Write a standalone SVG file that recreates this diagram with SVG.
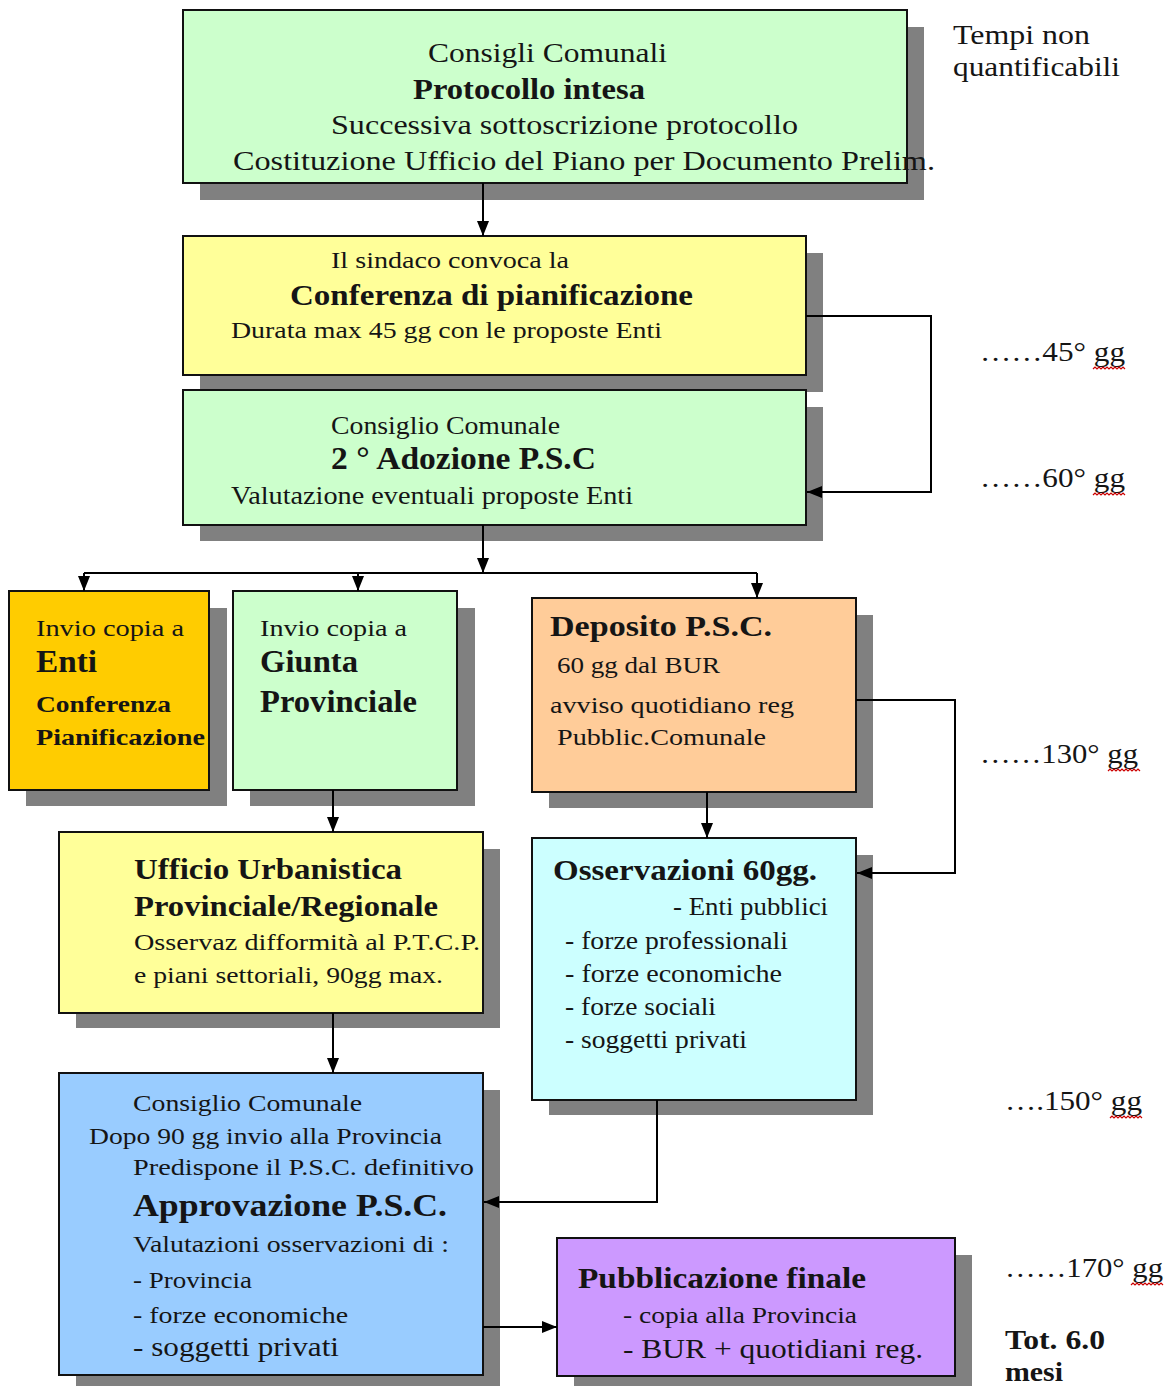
<svg xmlns="http://www.w3.org/2000/svg" width="1168" height="1386" viewBox="0 0 1168 1386">
<defs>
<marker id="ah" markerUnits="userSpaceOnUse" markerWidth="15" markerHeight="12" viewBox="0 0 15 12" refX="15" refY="6" orient="auto">
<path d="M0,0 L15,6 L0,12 z" fill="#000"/>
</marker>
</defs>
<style>
.sh{fill:#808080}
.bx{stroke:#111;stroke-width:2}
text{font-family:"Liberation Serif","Times New Roman",serif;fill:#151515}
.b{font-weight:bold}
.cn{fill:none;stroke:#000;stroke-width:2}
.sq{fill:none;stroke:#c00;stroke-width:1.2}
</style>
<rect width="1168" height="1386" fill="#fff"/>

<g id="n-consigli">
<rect class="sh" x="200" y="27" width="724" height="173"/>
<rect class="bx" x="183" y="10" width="724" height="173" fill="#CCFFCC"/>
<text x="428" y="62" font-size="28" textLength="239" lengthAdjust="spacingAndGlyphs">Consigli Comunali</text>
<text class="b" x="413" y="99" font-size="29" textLength="232" lengthAdjust="spacingAndGlyphs">Protocollo intesa</text>
<text x="331" y="134" font-size="28" textLength="467" lengthAdjust="spacingAndGlyphs">Successiva sottoscrizione protocollo</text>
<text x="233" y="170" font-size="28" textLength="702" lengthAdjust="spacingAndGlyphs">Costituzione Ufficio del Piano per Documento Prelim.</text>
</g>

<g id="n-conferenza">
<rect class="sh" x="200" y="253" width="623" height="139"/>
<rect class="bx" x="183" y="236" width="623" height="139" fill="#FFFF99"/>
<text x="331" y="268" font-size="24" textLength="238" lengthAdjust="spacingAndGlyphs">Il sindaco convoca la</text>
<text class="b" x="290" y="305" font-size="30" textLength="403" lengthAdjust="spacingAndGlyphs">Conferenza di pianificazione</text>
<text x="231" y="338" font-size="24" textLength="431" lengthAdjust="spacingAndGlyphs">Durata max 45 gg con le proposte Enti</text>
</g>

<g id="n-adozione">
<rect class="sh" x="200" y="407" width="623" height="134"/>
<rect class="bx" x="183" y="390" width="623" height="135" fill="#CCFFCC"/>
<text x="331" y="434" font-size="25" textLength="229" lengthAdjust="spacingAndGlyphs">Consiglio Comunale</text>
<text class="b" x="331" y="469" font-size="32" textLength="265" lengthAdjust="spacingAndGlyphs">2 ° Adozione P.S.C</text>
<text x="231" y="504" font-size="25" textLength="402" lengthAdjust="spacingAndGlyphs">Valutazione eventuali proposte Enti</text>
</g>

<g id="n-enti">
<rect class="sh" x="26" y="608" width="201" height="198"/>
<rect class="bx" x="9" y="591" width="200" height="199" fill="#FFCC00"/>
<text x="36" y="636" font-size="24" textLength="148" lengthAdjust="spacingAndGlyphs">Invio copia a</text>
<text class="b" x="36" y="672" font-size="31" textLength="61" lengthAdjust="spacingAndGlyphs">Enti</text>
<text class="b" x="36" y="712" font-size="24" textLength="135" lengthAdjust="spacingAndGlyphs">Conferenza</text>
<text class="b" x="36" y="745" font-size="24" textLength="169" lengthAdjust="spacingAndGlyphs">Pianificazione</text>
</g>

<g id="n-giunta">
<rect class="sh" x="250" y="608" width="225" height="198"/>
<rect class="bx" x="233" y="591" width="224" height="199" fill="#CCFFCC"/>
<text x="260" y="636" font-size="24" textLength="147" lengthAdjust="spacingAndGlyphs">Invio copia a</text>
<text class="b" x="260" y="672" font-size="31" textLength="98" lengthAdjust="spacingAndGlyphs">Giunta</text>
<text class="b" x="260" y="712" font-size="31" textLength="157" lengthAdjust="spacingAndGlyphs">Provinciale</text>
</g>

<g id="n-deposito">
<rect class="sh" x="549" y="615" width="324" height="193"/>
<rect class="bx" x="532" y="598" width="324" height="194" fill="#FFCC99"/>
<text class="b" x="550" y="636" font-size="30" textLength="222" lengthAdjust="spacingAndGlyphs">Deposito P.S.C.</text>
<text x="557" y="673" font-size="24" textLength="163" lengthAdjust="spacingAndGlyphs">60 gg dal BUR</text>
<text x="550" y="713" font-size="24" textLength="244" lengthAdjust="spacingAndGlyphs">avviso quotidiano reg</text>
<text x="557" y="745" font-size="24" textLength="209" lengthAdjust="spacingAndGlyphs">Pubblic.Comunale</text>
</g>

<g id="n-ufficio">
<rect class="sh" x="76" y="849" width="424" height="179"/>
<rect class="bx" x="59" y="832" width="424" height="181" fill="#FFFF99"/>
<text class="b" x="134" y="879" font-size="30" textLength="268" lengthAdjust="spacingAndGlyphs">Ufficio Urbanistica</text>
<text class="b" x="134" y="916" font-size="30" textLength="304" lengthAdjust="spacingAndGlyphs">Provinciale/Regionale</text>
<text x="134" y="950" font-size="24" textLength="346" lengthAdjust="spacingAndGlyphs">Osservaz difformità al P.T.C.P.</text>
<text x="134" y="983" font-size="24" textLength="309" lengthAdjust="spacingAndGlyphs">e piani settoriali, 90gg max.</text>
</g>

<g id="n-osservazioni">
<rect class="sh" x="549" y="855" width="324" height="260"/>
<rect class="bx" x="532" y="838" width="324" height="262" fill="#CCFFFF"/>
<text class="b" x="553" y="880" font-size="30" textLength="264" lengthAdjust="spacingAndGlyphs">Osservazioni  60gg.</text>
<text x="673" y="915" font-size="25" textLength="155" lengthAdjust="spacingAndGlyphs">- Enti pubblici</text>
<text x="565" y="949" font-size="25" textLength="223" lengthAdjust="spacingAndGlyphs">- forze professionali</text>
<text x="565" y="982" font-size="25" textLength="217" lengthAdjust="spacingAndGlyphs">- forze economiche</text>
<text x="565" y="1015" font-size="25" textLength="151" lengthAdjust="spacingAndGlyphs">- forze sociali</text>
<text x="565" y="1048" font-size="25" textLength="182" lengthAdjust="spacingAndGlyphs">- soggetti privati</text>
</g>

<g id="n-approvazione">
<rect class="sh" x="76" y="1090" width="424" height="300"/>
<rect class="bx" x="59" y="1073" width="424" height="302" fill="#99CCFF"/>
<text x="133" y="1111" font-size="24" textLength="229" lengthAdjust="spacingAndGlyphs">Consiglio Comunale</text>
<text x="89" y="1144" font-size="24" textLength="353" lengthAdjust="spacingAndGlyphs">Dopo 90 gg invio alla Provincia</text>
<text x="133" y="1175" font-size="24" textLength="341" lengthAdjust="spacingAndGlyphs">Predispone il  P.S.C.  definitivo</text>
<text class="b" x="133" y="1216" font-size="32" textLength="314" lengthAdjust="spacingAndGlyphs">Approvazione P.S.C.</text>
<text x="133" y="1252" font-size="24" textLength="316" lengthAdjust="spacingAndGlyphs">Valutazioni osservazioni di :</text>
<text x="133" y="1288" font-size="24" textLength="119" lengthAdjust="spacingAndGlyphs">- Provincia</text>
<text x="133" y="1323" font-size="24" textLength="215" lengthAdjust="spacingAndGlyphs">- forze economiche</text>
<text x="133" y="1356" font-size="27" textLength="206" lengthAdjust="spacingAndGlyphs">- soggetti privati</text>
</g>

<g id="n-pubblicazione">
<rect class="sh" x="574" y="1255" width="398" height="135"/>
<rect class="bx" x="557" y="1238" width="398" height="138" fill="#CC99FF"/>
<text class="b" x="578" y="1288" font-size="30" textLength="288" lengthAdjust="spacingAndGlyphs">Pubblicazione finale</text>
<text x="623" y="1323" font-size="24" textLength="234" lengthAdjust="spacingAndGlyphs">- copia alla Provincia</text>
<text x="623" y="1358" font-size="28" textLength="300" lengthAdjust="spacingAndGlyphs">- BUR + quotidiani reg.</text>
</g>

<g id="connectors">
<path class="cn" d="M483,183 V236" marker-end="url(#ah)"/>
<path class="cn" d="M806,316 H931 V492 H807" marker-end="url(#ah)"/>
<path class="cn" d="M483,525 V573" marker-end="url(#ah)"/>
<path class="cn" d="M84,573 H757"/>
<path class="cn" d="M84,573 V591" marker-end="url(#ah)"/>
<path class="cn" d="M358,573 V591" marker-end="url(#ah)"/>
<path class="cn" d="M757,573 V598" marker-end="url(#ah)"/>
<path class="cn" d="M333,790 V832" marker-end="url(#ah)"/>
<path class="cn" d="M333,1013 V1073" marker-end="url(#ah)"/>
<path class="cn" d="M707,792 V838" marker-end="url(#ah)"/>
<path class="cn" d="M856,700 H955 V873 H857" marker-end="url(#ah)"/>
<path class="cn" d="M657,1100 V1202 H484" marker-end="url(#ah)"/>
<path class="cn" d="M483,1327 H557" marker-end="url(#ah)"/>
</g>

<g id="timeline">
<text x="953" y="44" font-size="27" textLength="137" lengthAdjust="spacingAndGlyphs">Tempi non</text>
<text x="953" y="76" font-size="27" textLength="167" lengthAdjust="spacingAndGlyphs">quantificabili</text>
<text x="980" y="361" font-size="27" textLength="145" lengthAdjust="spacingAndGlyphs">……45° gg</text>
<text x="980" y="487" font-size="27" textLength="145" lengthAdjust="spacingAndGlyphs">……60° gg</text>
<text x="980" y="763" font-size="27" textLength="158" lengthAdjust="spacingAndGlyphs">……130° gg</text>
<text x="1005" y="1110" font-size="27" textLength="137" lengthAdjust="spacingAndGlyphs">….150° gg</text>
<text x="1005" y="1277" font-size="27" textLength="158" lengthAdjust="spacingAndGlyphs">……170° gg</text>
<text class="b" x="1005" y="1349" font-size="27" textLength="100" lengthAdjust="spacingAndGlyphs">Tot. 6.0</text>
<text class="b" x="1005" y="1381" font-size="27" textLength="58" lengthAdjust="spacingAndGlyphs">mesi</text>
<path class="sq" d="M1093,369 l2,-2 l2,2 l2,-2 l2,2 l2,-2 l2,2 l2,-2 l2,2 l2,-2 l2,2 l2,-2 l2,2 l2,-2 l2,2 l2,-2 l2,2"/>
<path class="sq" d="M1093,495 l2,-2 l2,2 l2,-2 l2,2 l2,-2 l2,2 l2,-2 l2,2 l2,-2 l2,2 l2,-2 l2,2 l2,-2 l2,2 l2,-2 l2,2"/>
<path class="sq" d="M1108,771 l2,-2 l2,2 l2,-2 l2,2 l2,-2 l2,2 l2,-2 l2,2 l2,-2 l2,2 l2,-2 l2,2 l2,-2 l2,2 l2,-2 l2,2"/>
<path class="sq" d="M1110,1118 l2,-2 l2,2 l2,-2 l2,2 l2,-2 l2,2 l2,-2 l2,2 l2,-2 l2,2 l2,-2 l2,2 l2,-2 l2,2 l2,-2 l2,2"/>
<path class="sq" d="M1131,1285 l2,-2 l2,2 l2,-2 l2,2 l2,-2 l2,2 l2,-2 l2,2 l2,-2 l2,2 l2,-2 l2,2 l2,-2 l2,2 l2,-2 l2,2"/>
</g>
</svg>
